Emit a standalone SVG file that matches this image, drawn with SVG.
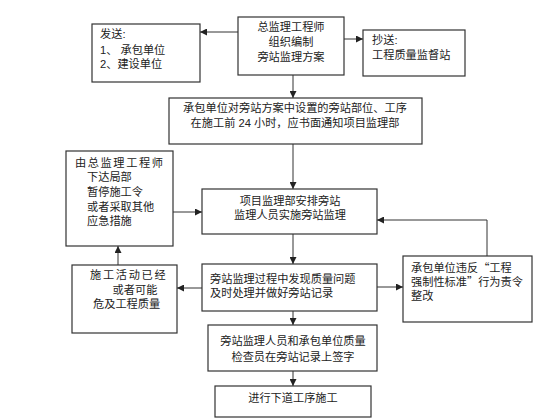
<svg xmlns="http://www.w3.org/2000/svg" width="560" height="420" viewBox="0 0 560 420">
<defs>
<marker id="ah" viewBox="0 0 10 10" refX="10" refY="5" markerWidth="7" markerHeight="7" markerUnits="userSpaceOnUse" orient="auto">
<path d="M0,0 L10,5 L0,10 z" fill="#222"/>
</marker>
<style>
.box{fill:#fff;stroke:#333;stroke-width:1.2}
.t{font-family:"Liberation Sans","Noto Sans CJK SC",sans-serif;font-size:11.2px;fill:#222}
.q{font-family:"Noto Sans CJK SC",sans-serif}
.m{text-anchor:middle}
.c{fill:none;stroke:#333;stroke-width:1}
</style>
</defs>
<rect width="560" height="420" fill="#fff"/>
<g id="connectors">
<line class="c" x1="238" y1="32" x2="200" y2="32" marker-end="url(#ah)"/>
<line class="c" x1="344" y1="39" x2="363" y2="39" marker-end="url(#ah)"/>
<line class="c" x1="293" y1="75" x2="293" y2="98" marker-end="url(#ah)"/>
<line class="c" x1="293" y1="144" x2="293" y2="189" marker-end="url(#ah)"/>
<line class="c" x1="173" y1="212" x2="202" y2="212" marker-end="url(#ah)"/>
<line class="c" x1="293" y1="234" x2="293" y2="264" marker-end="url(#ah)"/>
<line class="c" x1="118" y1="265" x2="118" y2="246" marker-end="url(#ah)"/>
<line class="c" x1="202" y1="288" x2="177" y2="288" marker-end="url(#ah)"/>
<line class="c" x1="377" y1="287" x2="403" y2="287" marker-end="url(#ah)"/>
<polyline class="c" points="487,256 487,220 377,220" marker-end="url(#ah)"/>
<line class="c" x1="293" y1="311" x2="293" y2="325" marker-end="url(#ah)"/>
<line class="c" x1="293" y1="371" x2="293" y2="386" marker-end="url(#ah)"/>
</g>
<g id="send">
<rect class="box" x="92" y="24" width="108" height="58"/>
<text class="t" x="100" y="38">发送:</text>
<text class="t" x="100" y="54">1、 承包单位</text>
<text class="t" x="100" y="68">2、建设单位</text>
</g>
<g id="chief">
<rect class="box" x="238" y="17" width="106" height="58"/>
<text class="t m" x="291" y="31">总监理工程师</text>
<text class="t m" x="291" y="46">组织编制</text>
<text class="t m" x="291" y="61">旁站监理方案</text>
</g>
<g id="copy">
<rect class="box" x="363" y="30" width="102" height="46"/>
<text class="t" x="372" y="44">抄送:</text>
<text class="t" x="372" y="59">工程质量监督站</text>
</g>
<g id="notify">
<rect class="box" x="169" y="98" width="253" height="46"/>
<text class="t m" x="295" y="112">承包单位对旁站方案中设置的旁站部位、工序</text>
<text class="t m" x="295" y="127">在施工前 24 小时，应书面通知项目监理部</text>
</g>
<g id="emergency">
<rect class="box" x="66" y="151" width="107" height="95"/>
<text class="t" x="75" y="167" letter-spacing="1.6">由总监理工程师</text>
<text class="t" x="87" y="181">下达局部</text>
<text class="t" x="87" y="196">暂停施工令</text>
<text class="t" x="87" y="211">或者采取其他</text>
<text class="t" x="87" y="225">应急措施</text>
</g>
<g id="arrange">
<rect class="box" x="202" y="189" width="175" height="45"/>
<text class="t m" x="290" y="205">项目监理部安排旁站</text>
<text class="t m" x="290" y="219">监理人员实施旁站监理</text>
</g>
<g id="endanger">
<rect class="box" x="72" y="265" width="105" height="68"/>
<text class="t" x="90" y="279" letter-spacing="1.7">施工活动已经</text>
<text class="t m" x="135" y="294">或者可能</text>
<text class="t" x="93" y="308">危及工程质量</text>
</g>
<g id="process">
<rect class="box" x="202" y="264" width="175" height="47"/>
<text class="t" x="210" y="283">旁站监理过程中发现质量问题</text>
<text class="t" x="210" y="297">及时处理并做好旁站记录</text>
</g>
<g id="violate">
<rect class="box" x="403" y="256" width="129" height="66"/>
<text class="t" x="411" y="272">承包单位违反<tspan class="q">“</tspan>工程</text>
<text class="t" x="411" y="286">强制性标准<tspan class="q">”</tspan>行为责令</text>
<text class="t" x="411" y="300">整改</text>
</g>
<g id="sign">
<rect class="box" x="208" y="325" width="169" height="46"/>
<text class="t m" x="293" y="345">旁站监理人员和承包单位质量</text>
<text class="t m" x="293" y="361">检查员在旁站记录上签字</text>
</g>
<g id="next">
<rect class="box" x="215" y="386" width="156" height="31"/>
<text class="t m" x="293" y="402">进行下道工序施工</text>
</g>
</svg>
